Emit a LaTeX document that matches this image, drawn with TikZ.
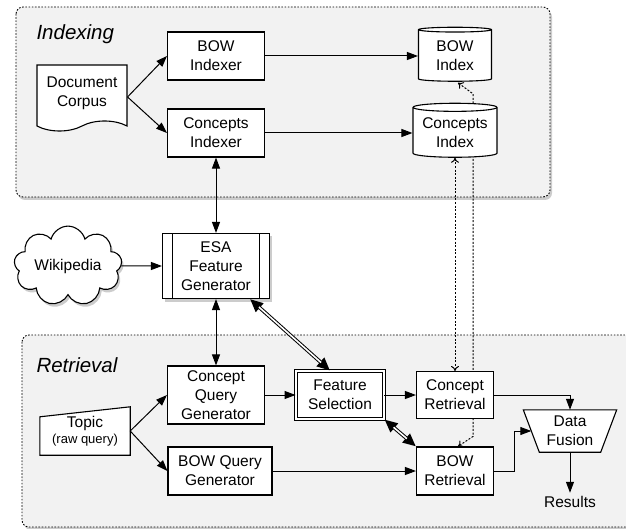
\documentclass[tikz,border=0pt]{standalone}
\usepackage{fontspec}
\setmainfont{Liberation Sans}
\usetikzlibrary{shapes.geometric,shapes.symbols,shadows,arrows.meta,calc,backgrounds}

\tikzset{
  box/.style={draw, fill=white, line width=1.1pt, align=center, inner sep=1pt},
  db/.style={box, cylinder, shape border rotate=90, aspect=0.12},
  shade/.style={drop shadow={shadow xshift=2pt, shadow yshift=-3pt, opacity=0.4}},
  sub/.style={path picture={
      \draw[line width=1.1pt] ([xshift=10pt]path picture bounding box.north west) -- ([xshift=10pt]path picture bounding box.south west)
        ([xshift=-10pt]path picture bounding box.north east) -- ([xshift=-10pt]path picture bounding box.south east);}},
  group/.style={draw, line width=0.9pt, dash pattern=on 1.6pt off 1.6pt, rounded corners=7pt, fill=black!5, shade},
  title/.style={anchor=base west, font=\fontsize{20.5}{24}\selectfont\itshape},
  arr/.style={line width=1pt, -{Triangle[length=11pt, width=8pt]}},
  both/.style={line width=1pt, {Triangle[length=11pt, width=8pt]}-{Triangle[length=11pt, width=8pt]}},
  wide/.style={line width=3.6pt, {Triangle[length=13pt, width=11pt]}-{Triangle[length=13pt, width=11pt]},
    postaction={draw, white, line width=1.6pt, arrows=-, shorten <=12pt, shorten >=12pt}},
  dots/.style={line width=1pt, dash pattern=on 2pt off 1.6pt, {To[length=5pt, width=8pt]}-{To[length=5pt, width=8pt]}},
}

\begin{document}
\begin{tikzpicture}[x=1pt, y=-1pt, font=\fontsize{15.5}{19}\selectfont]
  \useasboundingbox (0,0) rectangle (626,529);

  % indexing
  \node[title] (indexing) at (33,40) {Indexing};
  \node[box, tape, tape bend top=none, tape bend height=10pt, minimum width=90, minimum height=66] (corpus) at (82,93) {Document\\Corpus};
  \node[box, minimum width=97, minimum height=48] (bowidxr) at (216,56) {BOW\\Indexer};
  \node[box, minimum width=97, minimum height=48] (conidxr) at (216,133) {Concepts\\Indexer};
  \node[db, minimum width=73, minimum height=54] (bowidx) at (455,56) {BOW\\Index};
  \node[db, minimum width=84, minimum height=54] (conidx) at (455,133) {Concepts\\Index};

  % generator
  \node[box, cloud, cloud puffs=9, aspect=1.7, minimum width=108, minimum height=63, shade] (wiki) at (68,266) {Wikipedia};
  \node[box, sub, minimum width=107, minimum height=65, shade] (esa) at (216,266) {ESA\\Feature\\Generator};

  % retrieval
  \node[title] (retrieval) at (33,372) {Retrieval};
  \node[align=center, minimum width=90, minimum height=48] (topic) at (85,431) {Topic\\[-3pt]{\fontsize{13}{15}\selectfont (raw query)}};
  \node[box, minimum width=97, minimum height=58] (cqg) at (216,395) {Concept\\Query\\Generator};
  \node[box, minimum width=104, minimum height=48] (bowqg) at (220,471) {BOW Query\\Generator};
  \node[box, double, double distance=2.4pt, line width=0.9pt, minimum width=88, minimum height=48] (fs) at (340,395) {Feature\\Selection};
  \node[box, minimum width=77, minimum height=47] (conret) at (455,395) {Concept\\Retrieval};
  \node[box, minimum width=77, minimum height=48] (bowret) at (455,471) {BOW\\Retrieval};
  \node[align=center, minimum width=93, minimum height=42] (fusion) at (570,431) {Data\\Fusion};
  \node (results) at (570,502) {Results};

  \draw[arr] ($(corpus.east)+(0,4)$) -- (bowidxr.west);
  \draw[arr] ($(corpus.east)+(0,4)$) -- (conidxr.west);
  \draw[arr] (bowidxr) -- (bowidx);
  \draw[arr] (conidxr) -- (conidx);
  \draw[both] (conidxr) -- (esa);
  \draw[arr] (wiki) -- (esa);
  \draw[both] (esa) -- (cqg);
  \draw[wide] ($(esa.south)+(34,0)$) -- ($(fs.north)+(-10,0)$);
  \draw[arr] (topic.east) -- (cqg.west);
  \draw[arr] (topic.east) -- (bowqg.west);
  \draw[arr] (cqg) -- (fs);
  \draw[arr] (fs) -- (conret);
  \draw[wide] (fs.south east) -- (bowret.north west);
  \draw[arr] (bowqg) -- (bowret);
  \draw[arr] (conret) -| (fusion);
  \draw[arr] (bowret.east) -- ++(20,0) |- ($(fusion.west)+(8,0)$);
  \draw[arr] (fusion) -- (results);

  \begin{scope}[on background layer]
    \draw[group] (16,7) rectangle (550,197);
    \draw[group] (22,335) rectangle (650,527);
    \draw[line width=1.1pt, fill=white] (topic.south west) -- (topic.south east) -- (topic.north east) -- ($(topic.north west)+(0,10)$) -- cycle;
    \draw[line width=1.1pt, fill=white] (fusion.north west) -- (fusion.north east) -- ($(fusion.south east)+(-16,0)$) -- ($(fusion.south west)+(16,0)$) -- cycle;
    \draw[dots] (conidx.south) -- (conret.north);
    \draw[dots] ($(bowidx.south)+(3,1)$) -- ($(bowidx.south)+(18,12)$) -- ($(bowret.north)+(18,-10)$) -- ($(bowret.north)+(3,0)$);
  \end{scope}
\end{tikzpicture}
\end{document}
